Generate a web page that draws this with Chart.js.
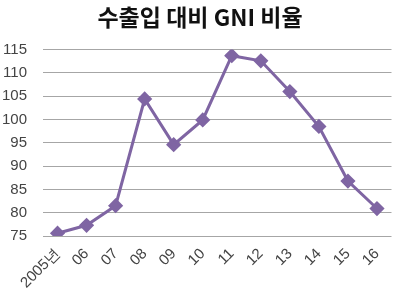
<!DOCTYPE html>
<html lang="ko">
<head>
  <meta charset="UTF-8" />
  <title>수출입 대비 GNI 비율</title>
  <script src="https://cdn.jsdelivr.net/npm/chart.js"></script>
  <style>
    body { margin: 0; background: #fff; }
    .chart-box { width: 400px; height: 297px; position: relative; }
  </style>
</head>
<body>
  <div class="chart-box">
    <canvas id="gniChart"></canvas>
  </div>
  <script>
    const years = ['2005년', '06', '07', '08', '09', '10', '11', '12', '13', '14', '15', '16'];
    const gniRatio = [75.6, 77.3, 81.5, 104.4, 94.6, 99.9, 113.7, 112.6, 106.0, 98.5, 86.8, 80.9];
    const yTicks = [75, 80, 85, 90, 95, 100, 105, 110, 115];

    const purple = '#7f65a3';
    const tickFont = { family: "'Liberation Sans Narrow', 'Liberation Sans', Arial, sans-serif", size: 15 };

    new Chart(document.getElementById('gniChart'), {
      type: 'line',
      data: {
        labels: years,
        datasets: [{
          data: gniRatio,
          borderColor: purple,
          backgroundColor: purple,
          borderWidth: 3,
          pointStyle: 'rectRot',
          pointRadius: 5.5,
          pointHoverRadius: 5.5,
          tension: 0
        }]
      },
      options: {
        responsive: true,
        maintainAspectRatio: false,
        animation: false,
        layout: { padding: { left: 0, right: 0, top: 0, bottom: 0 } },
        plugins: {
          legend: { display: false },
          tooltip: { enabled: false },
          title: {
            display: true,
            text: '수출입 대비 GNI 비율',
            color: '#111',
            font: { family: "'Noto Sans CJK KR', sans-serif", size: 23, weight: 'bold' },
            padding: { top: 3, bottom: 19 }
          }
        },
        scales: {
          x: {
            offset: true,
            grid: { display: false, drawTicks: false },
            border: { display: false },
            ticks: {
              color: '#444',
              font: tickFont,
              autoSkip: false,
              minRotation: 45,
              maxRotation: 45,
              padding: 9
            },
            afterFit: s => { s.height = 61; }
          },
          y: {
            min: yTicks[0],
            max: yTicks[yTicks.length - 1],
            afterBuildTicks: s => { s.ticks = yTicks.map(v => ({ value: v })); },
            grid: { color: '#a6a6a6', lineWidth: 1, drawTicks: false },
            border: { display: false },
            ticks: { color: '#444', font: tickFont, padding: 16 },
            afterFit: s => { s.width = 43; }
          }
        }
      }
    });
  </script>
</body>
</html>
